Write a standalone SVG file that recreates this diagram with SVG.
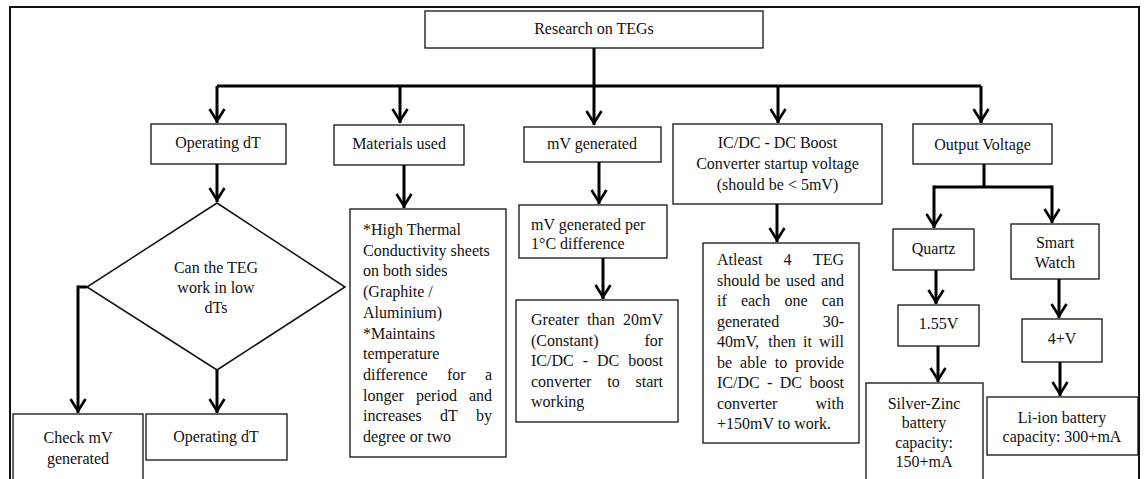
<svg xmlns="http://www.w3.org/2000/svg" width="1145" height="479" viewBox="0 0 1145 479">
<defs>
<marker id="ah" markerUnits="userSpaceOnUse" viewBox="-16 -10 20 20" refX="0" refY="0" markerWidth="20" markerHeight="20" orient="auto" overflow="visible">
<path d="M-14,-7.5 L-2,0 L-14,7.5" fill="none" stroke="#000" stroke-width="2.6"/>
</marker>
</defs>
<style>
.box{fill:#fff;stroke:#111;stroke-width:1.3}
.t{font-family:"Liberation Serif","Times New Roman",serif;font-size:16px;fill:#111}
.c{text-anchor:middle}
.ln{fill:none;stroke:#000;stroke-width:3}
.ar{fill:none;stroke:#000;stroke-width:3;marker-end:url(#ah)}
</style>
<rect width="1145" height="479" fill="#fff"/>
<path d="M10,479 V7 H1139 V479" fill="none" stroke="#111" stroke-width="2"/>

<g id="connectors">
<path class="ln" d="M594,48 V86"/>
<path class="ln" d="M217,86 H981"/>
<path class="ar" d="M217,86 V123"/>
<path class="ar" d="M400,86 V123"/>
<path class="ar" d="M594,86 V125"/>
<path class="ar" d="M778,86 V123"/>
<path class="ar" d="M981,86 V123"/>
<path class="ar" d="M217,164 V202"/>
<path class="ln" d="M87,287 H78"/>
<path class="ar" d="M78,285.5 V413"/>
<path class="ar" d="M217,370 V413"/>
<path class="ar" d="M404,165 V208"/>
<path class="ar" d="M599,162 V204"/>
<path class="ar" d="M603,258 V299"/>
<path class="ar" d="M777,204 V242"/>
<path class="ln" d="M984,164 V187"/>
<path class="ln" d="M934,187 H1052"/>
<path class="ar" d="M934,185.5 V228"/>
<path class="ar" d="M1052,185.5 V223"/>
<path class="ar" d="M936,270 V304"/>
<path class="ar" d="M938,346 V382"/>
<path class="ar" d="M1059,279 V318"/>
<path class="ar" d="M1060,362 V396"/>
</g>

<g id="root">
<rect class="box" x="425" y="11" width="338" height="37"/>
<text class="t c" x="594" y="34">Research on TEGs</text>
</g>

<g id="operating">
<rect class="box" x="151" y="124" width="135" height="40"/>
<text class="t c" x="218" y="148">Operating dT</text>
</g>

<g id="materials">
<rect class="box" x="334" y="125" width="130" height="40"/>
<text class="t c" x="399" y="149">Materials used</text>
</g>

<g id="mv">
<rect class="box" x="524" y="127" width="137" height="35"/>
<text class="t c" x="592" y="149">mV generated</text>
</g>

<g id="icdc">
<rect class="box" x="673" y="124" width="209" height="80"/>
<text class="t c" x="777.5" y="148">IC/DC - DC Boost</text>
<text class="t c" x="777.5" y="169">Converter startup voltage</text>
<text class="t c" x="777.5" y="190">(should be &lt; 5mV)</text>
</g>

<g id="output">
<rect class="box" x="913" y="124" width="139" height="40"/>
<text class="t c" x="982.5" y="150">Output Voltage</text>
</g>

<g id="decision">
<polygon points="217,203 345,287 217,370 87,287" fill="#fff" stroke="#111" stroke-width="1.5"/>
<text class="t c" x="216" y="273">Can the TEG</text>
<text class="t c" x="216" y="293">work in low</text>
<text class="t c" x="216" y="313">dTs</text>
</g>

<g id="checkmv">
<rect class="box" x="13" y="414" width="130" height="70"/>
<text class="t c" x="78" y="443">Check mV</text>
<text class="t c" x="78" y="464">generated</text>
</g>

<g id="operating2">
<rect class="box" x="146" y="414" width="141" height="46"/>
<text class="t c" x="216" y="442">Operating dT</text>
</g>

<g id="materials-detail">
<rect class="box" x="350" y="209" width="156" height="248"/>
<text class="t" x="363" y="235">*High Thermal</text>
<text class="t" x="363" y="255.7">Conductivity sheets</text>
<text class="t" x="363" y="276.4">on both sides</text>
<text class="t" x="363" y="297.1">(Graphite /</text>
<text class="t" x="363" y="317.8">Aluminium)</text>
<text class="t" x="363" y="338.5">*Maintains</text>
<text class="t" x="363" y="359.2">temperature</text>
<text class="t" y="379.9"><tspan x="363">difference</tspan><tspan x="447">for</tspan><tspan x="484.9">a</tspan></text>
<text class="t" y="400.6"><tspan x="363">longer</tspan><tspan x="416">period</tspan><tspan x="468.9">and</tspan></text>
<text class="t" y="421.3"><tspan x="363">increases</tspan><tspan x="439.9">dT</tspan><tspan x="476">by</tspan></text>
<text class="t" x="363" y="442">degree or two</text>
</g>

<g id="mv-per">
<rect class="box" x="519" y="205" width="148" height="53"/>
<text class="t" x="531" y="230">mV generated per</text>
<text class="t" x="531" y="249">1°C difference</text>
</g>

<g id="greater">
<rect class="box" x="516" y="300" width="162" height="122"/>
<text class="t" y="325"><tspan x="531">Greater</tspan><tspan x="587.1">than</tspan><tspan x="623">20mV</tspan></text>
<text class="t" y="345.5"><tspan x="531">(Constant)</tspan><tspan x="644.4">for</tspan></text>
<text class="t" y="366"><tspan x="531">IC/DC</tspan><tspan x="582.7">-</tspan><tspan x="597">DC</tspan><tspan x="628.3">boost</tspan></text>
<text class="t" y="386.5"><tspan x="531">converter</tspan><tspan x="607.2">to</tspan><tspan x="635.5">start</tspan></text>
<text class="t" x="531" y="407">working</text>
</g>

<g id="atleast">
<rect class="box" x="703" y="243" width="156" height="200"/>
<text class="t" y="265"><tspan x="717">Atleast</tspan><tspan x="783.6">4</tspan><tspan x="812.9">TEG</tspan></text>
<text class="t" y="285.5"><tspan x="717">should</tspan><tspan x="765.3">be</tspan><tspan x="786">used</tspan><tspan x="820.9">and</tspan></text>
<text class="t" y="306"><tspan x="717">if</tspan><tspan x="740.9">each</tspan><tspan x="784.4">one</tspan><tspan x="821.7">can</tspan></text>
<text class="t" y="326.5"><tspan x="717">generated</tspan><tspan x="822.7">30-</tspan></text>
<text class="t" y="347"><tspan x="717">40mV,</tspan><tspan x="768.2">then</tspan><tspan x="803">it</tspan><tspan x="819.1">will</tspan></text>
<text class="t" y="367.5"><tspan x="717">be</tspan><tspan x="740.1">able</tspan><tspan x="774.7">to</tspan><tspan x="795.2">provide</tspan></text>
<text class="t" y="388"><tspan x="717">IC/DC</tspan><tspan x="767.1">-</tspan><tspan x="779.8">DC</tspan><tspan x="809.4">boost</tspan></text>
<text class="t" y="408.5"><tspan x="717">converter</tspan><tspan x="815.5">with</tspan></text>
<text class="t" x="717" y="429">+150mV to work.</text>
</g>

<g id="quartz">
<rect class="box" x="893" y="229" width="81" height="41"/>
<text class="t c" x="933.5" y="254">Quartz</text>
</g>

<g id="smartwatch">
<rect class="box" x="1011" y="224" width="88" height="55"/>
<text class="t c" x="1055" y="248">Smart</text>
<text class="t c" x="1055" y="268">Watch</text>
</g>

<g id="v155">
<rect class="box" x="898" y="305" width="81" height="41"/>
<text class="t c" x="938.5" y="329">1.55V</text>
</g>

<g id="v4">
<rect class="box" x="1022" y="319" width="80" height="43"/>
<text class="t c" x="1062" y="344">4+V</text>
</g>

<g id="silverzinc">
<rect class="box" x="866" y="383" width="117" height="100"/>
<text class="t c" x="924" y="409">Silver-Zinc</text>
<text class="t c" x="924" y="428">battery</text>
<text class="t c" x="924" y="447.5">capacity:</text>
<text class="t c" x="924" y="466.5">150+mA</text>
</g>

<g id="liion">
<rect class="box" x="987" y="397" width="151" height="58"/>
<text class="t c" x="1062" y="423">Li-ion battery</text>
<text class="t c" x="1062" y="442">capacity: 300+mA</text>
</g>
</svg>
